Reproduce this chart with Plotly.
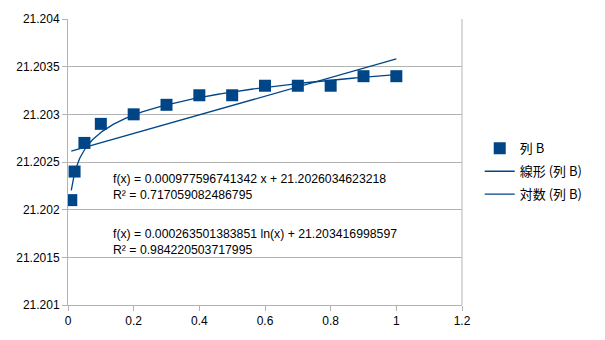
import numpy as np
import plotly.graph_objects as go

# data
x_vals = [0.01, 0.02, 0.05, 0.1, 0.2, 0.3, 0.4, 0.5, 0.6, 0.7, 0.8, 0.9, 1.0]
y_vals = [21.2021, 21.2024, 21.2027, 21.2029, 21.2030, 21.2031, 21.2032,
          21.2032, 21.2033, 21.2033, 21.2033, 21.2034, 21.2034]
series_name = "列 B"
lin_name = "線形 (列 B)"
log_name = "対数 (列 B)"
lin_slope, lin_icpt = 0.000977596741342, 21.2026034623218
log_coef, log_icpt = 0.000263501383851, 21.203416998597
lin_text = "f(x) = 0.000977596741342 x + 21.2026034623218<br>R² = 0.717059082486795"
log_text = "f(x) = 0.000263501383851 ln(x) + 21.203416998597<br>R² = 0.984220503717995"
y_ticks = [21.201, 21.2015, 21.202, 21.2025, 21.203, 21.2035, 21.204]
y_ticktext = ["21.201", "21.2015", "21.202", "21.2025", "21.203", "21.2035", "21.204"]
x_ticks = [0, 0.2, 0.4, 0.6, 0.8, 1, 1.2]
x_ticktext = ["0", "0.2", "0.4", "0.6", "0.8", "1", "1.2"]

color = "#004586"
grid = "#b3b3b3"
font = "Liberation Sans, Arial, sans-serif"

xfit = np.linspace(min(x_vals), max(x_vals), 400)

fig = go.Figure()
fig.add_trace(go.Scatter(x=x_vals, y=y_vals, mode="markers", name=series_name,
                         legendgroup="a",
                         marker=dict(symbol="square", size=12, color=color)))
fig.add_trace(go.Scatter(x=[min(x_vals), max(x_vals)],
                         y=[lin_slope * min(x_vals) + lin_icpt, lin_slope * max(x_vals) + lin_icpt],
                         mode="lines", name=lin_name, legendgroup="b",
                         line=dict(color=color, width=1.3)))
fig.add_trace(go.Scatter(x=xfit, y=log_coef * np.log(xfit) + log_icpt,
                         mode="lines", name=log_name, legendgroup="c",
                         line=dict(color=color, width=1.3)))

fig.add_annotation(x=0.132, y=21.20242, xref="x", yref="y", text=lin_text, showarrow=False,
                   xanchor="left", yanchor="top", align="left",
                   font=dict(family=font, size=12.25, color="#000"))
fig.add_annotation(x=0.132, y=21.20184, xref="x", yref="y", text=log_text, showarrow=False,
                   xanchor="left", yanchor="top", align="left",
                   font=dict(family=font, size=12.25, color="#000"))

fig.update_layout(
    width=605, height=340,
    margin=dict(l=68, r=143, t=15, b=31),
    paper_bgcolor="white", plot_bgcolor="white",
    font=dict(family=font, size=12, color="#000"),
    showlegend=True,
    legend=dict(x=1.045, y=0.6, xanchor="left", yanchor="top",
                font=dict(family="Noto Sans CJK JP, " + font, size=13),
                itemwidth=30, bgcolor="rgba(0,0,0,0)", tracegroupgap=3),
)
fig.update_xaxes(range=[0, 1.2], tickvals=x_ticks, ticktext=x_ticktext,
                 showgrid=False, showline=True, linecolor=grid, linewidth=1,
                 ticks="outside", tickcolor=grid, ticklen=5, zeroline=False)
fig.update_yaxes(range=[21.201, 21.204], tickvals=y_ticks, ticktext=y_ticktext,
                 showgrid=True, gridcolor=grid, gridwidth=1,
                 showline=True, linecolor=grid, linewidth=1,
                 ticks="outside", tickcolor=grid, ticklen=5, zeroline=False)
# right border of plot area
fig.add_shape(type="line", xref="paper", yref="paper", x0=1, x1=1, y0=0, y1=1,
              line=dict(color=grid, width=1))

fig.write_html("out.html")
